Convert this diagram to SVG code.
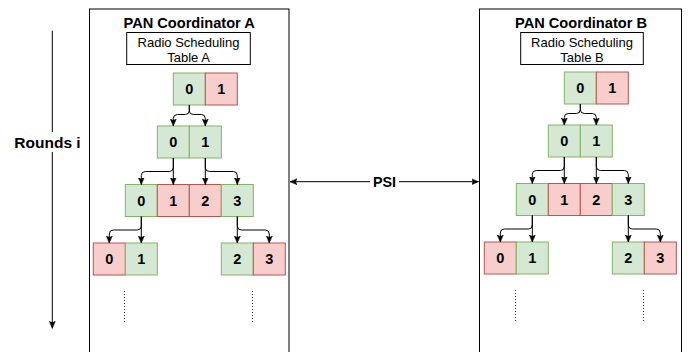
<svg xmlns="http://www.w3.org/2000/svg" width="697" height="352" viewBox="0 0 697 352">
  <style>
    .panel { fill: #ffffff; stroke: #000000; stroke-width: 1; }
    .table { fill: #ffffff; stroke: #000000; stroke-width: 1; }
    .g { fill: #d5e8d4; stroke: #82b366; stroke-width: 1; }
    .r { fill: #f8cecc; stroke: #b85450; stroke-width: 1; }
    .num { font-family: "Liberation Sans", Arial, sans-serif; font-size: 14.5px; font-weight: bold; fill: #000000; text-anchor: middle; }
    .title { font-family: "Liberation Sans", Arial, sans-serif; font-size: 14.6px; font-weight: bold; fill: #000000; text-anchor: middle; }
    .label { font-family: "Liberation Sans", Arial, sans-serif; font-size: 13px; fill: #000000; text-anchor: middle; }
    .big { font-family: "Liberation Sans", Arial, sans-serif; font-size: 15.5px; font-weight: bold; fill: #000000; text-anchor: middle; }
    .psi { font-family: "Liberation Sans", Arial, sans-serif; font-size: 14.3px; font-weight: bold; fill: #000000; text-anchor: middle; }
    .edge { fill: none; stroke: #000000; stroke-width: 1; }
    .arr { marker-end: url(#tip); }
    .dots { fill: none; stroke: #333333; stroke-width: 1; stroke-dasharray: 1 2; }
  </style>
  <defs>
    <marker id="tip" viewBox="0 0 8 8" refX="7" refY="4" markerWidth="8" markerHeight="8" markerUnits="userSpaceOnUse" orient="auto">
      <path d="M0,1 L7,4 L0,7 L1.5,4 z" fill="#000000" stroke="#000000" stroke-width="0.5"/>
    </marker>
    <marker id="tipStart" viewBox="0 0 8 8" refX="1" refY="4" markerWidth="8" markerHeight="8" markerUnits="userSpaceOnUse" orient="auto">
      <path d="M8,1 L1,4 L8,7 L6.5,4 z" fill="#000000" stroke="#000000" stroke-width="0.5"/>
    </marker>
    <!-- connector tree shared by both coordinators -->
    <g id="tree-edges">
      <path class="edge arr" d="M189.3,105 V110.5 Q189.3,114.5 185.3,114.5 H177.3 Q173.3,114.5 173.3,118.5 V126"/>
      <path class="edge arr" d="M189.3,105 V110.5 Q189.3,114.5 193.3,114.5 H201.3 Q205.3,114.5 205.3,118.5 V126"/>
      <path class="edge arr" d="M173.3,158 V184.5"/>
      <path class="edge arr" d="M173.3,158 V167.5 Q173.3,171.5 169.3,171.5 H145.3 Q141.3,171.5 141.3,175.5 V184.5"/>
      <path class="edge arr" d="M205.3,158 V184.5"/>
      <path class="edge arr" d="M205.3,158 V167.5 Q205.3,171.5 209.3,171.5 H233.3 Q237.3,171.5 237.3,175.5 V184.5"/>
      <path class="edge arr" d="M141.3,216.5 V243"/>
      <path class="edge arr" d="M141.3,216.5 V226 Q141.3,230 137.3,230 H113.3 Q109.3,230 109.3,234 V243"/>
      <path class="edge arr" d="M237.3,216.5 V243"/>
      <path class="edge arr" d="M237.3,216.5 V226 Q237.3,230 241.3,230 H265.3 Q269.3,230 269.3,234 V243"/>
    </g>
  </defs>

  <!-- round axis -->
  <g id="rounds-axis">
    <line class="edge" x1="52.3" y1="30.7" x2="52.3" y2="328.3" marker-end="url(#tip)"/>
    <rect x="13" y="132" width="70" height="20" fill="#ffffff"/>
    <text class="big" x="47.5" y="148">Rounds i</text>
  </g>

  <!-- coordinator A -->
  <g id="coordinator-a">
    <rect class="panel" x="89.5" y="9" width="199.5" height="360"/>
    <text class="title" x="189.2" y="28">PAN Coordinator A</text>
    <g id="table-a">
      <rect class="table" x="126.7" y="32.5" width="123.6" height="32"/>
      <text class="label" x="188.5" y="46.6">Radio Scheduling</text>
      <text class="label" x="188.5" y="61.8">Table A</text>
    </g>
    <g id="a-round1">
      <rect class="g" x="173.3" y="73" width="32" height="32"/>
      <rect class="r" x="205.3" y="73" width="32" height="32"/>
      <text class="num" x="189.3" y="94.2">0</text>
      <text class="num" x="221.3" y="94.2">1</text>
    </g>
    <g id="a-round2">
      <rect class="g" x="157.3" y="126" width="32" height="32"/>
      <rect class="g" x="189.3" y="126" width="32" height="32"/>
      <text class="num" x="173.3" y="147.2">0</text>
      <text class="num" x="205.3" y="147.2">1</text>
    </g>
    <g id="a-round3">
      <rect class="g" x="125.3" y="184.5" width="32" height="32"/>
      <rect class="r" x="157.3" y="184.5" width="32" height="32"/>
      <rect class="r" x="189.3" y="184.5" width="32" height="32"/>
      <rect class="g" x="221.3" y="184.5" width="32" height="32"/>
      <text class="num" x="141.3" y="205.7">0</text>
      <text class="num" x="173.3" y="205.7">1</text>
      <text class="num" x="205.3" y="205.7">2</text>
      <text class="num" x="237.3" y="205.7">3</text>
    </g>
    <g id="a-round4">
      <rect class="r" x="93.3" y="243" width="32" height="32"/>
      <rect class="g" x="125.3" y="243" width="32" height="32"/>
      <rect class="g" x="221.3" y="243" width="32" height="32"/>
      <rect class="r" x="253.3" y="243" width="32" height="32"/>
      <text class="num" x="109.3" y="264.2">0</text>
      <text class="num" x="141.3" y="264.2">1</text>
      <text class="num" x="237.3" y="264.2">2</text>
      <text class="num" x="269.3" y="264.2">3</text>
    </g>
    <line class="dots" x1="124.5" y1="291" x2="124.5" y2="322"/>
    <line class="dots" x1="252.5" y1="291" x2="252.5" y2="322"/>
  </g>

  <!-- coordinator B -->
  <g id="coordinator-b">
    <rect class="panel" x="479.5" y="9" width="202" height="360"/>
    <text class="title" x="581" y="28">PAN Coordinator B</text>
    <g id="table-b">
      <rect class="table" x="520.7" y="32.5" width="122.6" height="32"/>
      <text class="label" x="582" y="46.6">Radio Scheduling</text>
      <text class="label" x="582" y="61.8">Table B</text>
    </g>
    <g transform="translate(391,-1)">
      <g id="b-round1">
        <rect class="g" x="173.3" y="73" width="32" height="32"/>
        <rect class="r" x="205.3" y="73" width="32" height="32"/>
        <text class="num" x="189.3" y="94.2">0</text>
        <text class="num" x="221.3" y="94.2">1</text>
      </g>
      <g id="b-round2">
        <rect class="g" x="157.3" y="126" width="32" height="32"/>
        <rect class="g" x="189.3" y="126" width="32" height="32"/>
        <text class="num" x="173.3" y="147.2">0</text>
        <text class="num" x="205.3" y="147.2">1</text>
      </g>
      <g id="b-round3">
        <rect class="g" x="125.3" y="184.5" width="32" height="32"/>
        <rect class="r" x="157.3" y="184.5" width="32" height="32"/>
        <rect class="r" x="189.3" y="184.5" width="32" height="32"/>
        <rect class="g" x="221.3" y="184.5" width="32" height="32"/>
        <text class="num" x="141.3" y="205.7">0</text>
        <text class="num" x="173.3" y="205.7">1</text>
        <text class="num" x="205.3" y="205.7">2</text>
        <text class="num" x="237.3" y="205.7">3</text>
      </g>
      <g id="b-round4">
        <rect class="r" x="93.3" y="243" width="32" height="32"/>
        <rect class="g" x="125.3" y="243" width="32" height="32"/>
        <rect class="g" x="221.3" y="243" width="32" height="32"/>
        <rect class="r" x="253.3" y="243" width="32" height="32"/>
        <text class="num" x="109.3" y="264.2">0</text>
        <text class="num" x="141.3" y="264.2">1</text>
        <text class="num" x="237.3" y="264.2">2</text>
        <text class="num" x="269.3" y="264.2">3</text>
      </g>
      <line class="dots" x1="124.5" y1="291" x2="124.5" y2="322"/>
      <line class="dots" x1="252.5" y1="291" x2="252.5" y2="322"/>
    </g>
  </g>

  <!-- connectors -->
  <g id="connectors">
    <use href="#tree-edges"/>
    <use href="#tree-edges" transform="translate(391,-1)"/>
    <line class="edge" x1="290" y1="181.7" x2="478.5" y2="181.7" marker-start="url(#tipStart)" marker-end="url(#tip)"/>
    <rect x="370" y="173" width="29" height="18" fill="#ffffff"/>
    <text class="psi" x="384.5" y="186.8">PSI</text>
  </g>
</svg>
